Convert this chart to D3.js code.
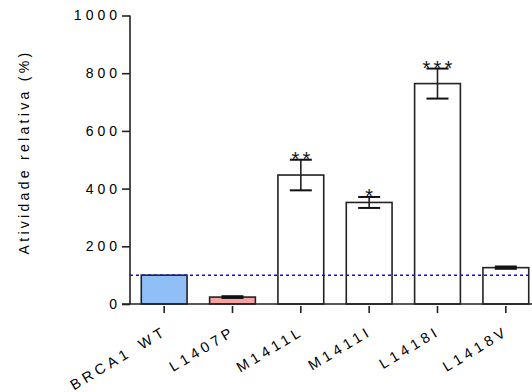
<!DOCTYPE html>
<html>
<head>
<meta charset="utf-8">
<script src="https://cdn.jsdelivr.net/npm/d3@7"></script>
<style>
  html, body { margin: 0; padding: 0; background: #fff; }
  svg { display: block; font-family: Arial, "Liberation Sans", sans-serif; }
</style>
</head>
<body>
<svg id="chart" width="532" height="392"></svg>
<script>
// Relative activity of BRCA1 variants (mean ± error), WT = 100 %
const categories = ["BRCA1 WT", "L1407P", "M1411L", "M1411I", "L1418I", "L1418V"];
const means      = [100, 24, 447, 352, 764, 126];
const errors     = [0, 3, 53, 19, 52, 4];
const stars      = ["", "", "**", "*", "***", ""];
const fills      = ["#90bff7", "#f7a2a2", "#ffffff", "#ffffff", "#ffffff", "#ffffff"];
const yTicks     = [0, 200, 400, 600, 800, 1000];
const reference  = 100;
const yTitle     = "Atividade relativa (%)";

const svg = d3.select("#chart");

const x = d3.scaleBand()
  .domain(categories)
  .range([130, 540])
  .paddingInner(0.33)
  .paddingOuter(0.165);

const y = d3.scaleLinear().domain([0, 1000]).range([304, 15.5]);

const data = categories.map((c, i) => ({ c, m: means[i], e: errors[i], s: stars[i], f: fills[i] }));
const cx = c => x(c) + x.bandwidth() / 2;

// bars
svg.append("g").selectAll("rect").data(data).join("rect")
  .attr("x", d => x(d.c))
  .attr("y", d => y(d.m))
  .attr("width", x.bandwidth())
  .attr("height", d => y(0) - y(d.m))
  .attr("fill", d => d.f)
  .attr("stroke", "#222")
  .attr("stroke-width", 1.6);

// error bars
const capW = 22;
const eb = svg.append("g").selectAll("g").data(data.filter(d => d.e > 0)).join("g");
eb.append("line")
  .attr("x1", d => cx(d.c))
  .attr("x2", d => cx(d.c))
  .attr("y1", d => y(d.m - d.e))
  .attr("y2", d => y(d.m + d.e))
  .attr("stroke", "#222").attr("stroke-width", 1.6);
eb.selectAll("line.cap").data(d => [d.m - d.e, d.m + d.e].map(v => ({ d, v }))).join("line")
  .attr("class", "cap")
  .attr("x1", o => cx(o.d.c) - capW / 2)
  .attr("x2", o => cx(o.d.c) + capW / 2)
  .attr("y1", o => y(o.v))
  .attr("y2", o => y(o.v))
  .attr("stroke", "#111").attr("stroke-width", 2);

// significance markers
svg.append("g").selectAll("text").data(data.filter(d => d.s)).join("text")
  .attr("x", d => cx(d.c) + 1.6)
  .attr("y", d => y(d.m + d.e) + 6.5)
  .attr("text-anchor", "middle")
  .attr("font-size", 20)
  .attr("letter-spacing", 3.2)
  .attr("fill", "#111")
  .text(d => d.s);

// reference line at 100 %
svg.append("line")
  .attr("x1", 130).attr("x2", 532)
  .attr("y1", y(reference)).attr("y2", y(reference))
  .attr("stroke", "#1010d8")
  .attr("stroke-width", 1.5)
  .attr("stroke-dasharray", "3,3");

// y axis
const yAxis = d3.axisLeft(y).tickValues(yTicks).tickSize(8).tickPadding(5).tickFormat(d3.format("d"));
const gy = svg.append("g").attr("transform", "translate(130,0)").call(yAxis);
gy.select(".domain").attr("stroke", "#222").attr("stroke-width", 1.6).attr("d", `M0,${y(0)}V${y(1000)}`);
gy.selectAll(".tick line").attr("stroke", "#222").attr("stroke-width", 1.6);
gy.selectAll(".tick text")
  .attr("font-size", 14)
  .attr("letter-spacing", 4)
  .attr("dx", 4)
  .attr("fill", "#000")
  .attr("font-family", "Arial, 'Liberation Sans', sans-serif");

// x axis
const xAxis = d3.axisBottom(x).tickSize(8).tickFormat("");
const gx = svg.append("g").attr("transform", `translate(0,${y(0)})`).call(xAxis);
gx.select(".domain").attr("stroke", "#222").attr("stroke-width", 1.6).attr("d", "M122,0H532");
gx.selectAll(".tick line").attr("stroke", "#222").attr("stroke-width", 1.6).attr("y1", 2).attr("y2", 9);

// rotated category labels
svg.append("g").selectAll("text").data(categories).join("text")
  .attr("transform", c => `translate(${cx(c) + 4},${y(0) + 30}) rotate(-31)`)
  .attr("text-anchor", "end")
  .attr("font-size", 14.5)
  .attr("letter-spacing", 4)
  .attr("word-spacing", 3)
  .attr("fill", "#000")
  .text(c => c);

// y title
svg.append("text")
  .attr("transform", `translate(29,152) rotate(-90)`)
  .attr("text-anchor", "middle")
  .attr("font-size", 14)
  .attr("letter-spacing", 3.3)
  .attr("fill", "#000")
  .text(yTitle);
</script>
</body>
</html>
